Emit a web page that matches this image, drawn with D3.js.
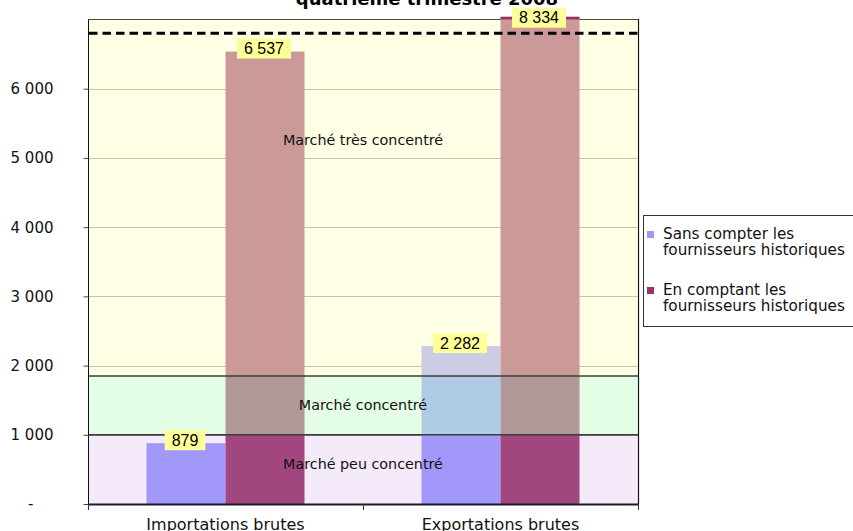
<!DOCTYPE html>
<html>
<head>
<meta charset="utf-8">
<script src="https://cdn.jsdelivr.net/npm/d3@7"></script>
<style>
  html, body { margin: 0; padding: 0; background: #ffffff; }
  svg { display: block; }
</style>
</head>
<body>
<svg id="chart" width="853" height="531"></svg>
<script>
// ---------------- data ----------------
const titleText = "quatrième trimestre 2008";
const categories = ["Importations brutes", "Exportations brutes"];
const seriesNames = ["Sans compter les fournisseurs historiques", "En comptant les fournisseurs historiques"];
const legendLines = [["Sans compter les", "fournisseurs historiques"], ["En comptant les", "fournisseurs historiques"]];
const sansCompter = [879, 2282];
const enComptant = [6537, 8334];
const bandBreaks = [0, 1000, 1850, 7000];
const bandLabels = ["Marché peu concentré", "Marché concentré", "Marché très concentré"];
const thresholdValue = 6800;
const yTickValues = [0, 1000, 2000, 3000, 4000, 5000, 6000];
const yMax = 7000;

// ---------------- layout / style ----------------
const W = 853, H = 531;
const plot = { left: 88, right: 638, top: 19.5, bottom: 504 };
const seriesColors = ["#9999FF", "#993366"];
const bandOverlay = ["rgba(198,151,232,0.2)", "rgba(199,253,202,0.5)", "rgba(255,255,204,0.5)"];
const bandLabelPx = [469, 410, 145]; // text baselines
const fmt = v => v === 0 ? "-" : d3.format(",")(v).replace(/,/g, " ");

const svg = d3.select("#chart");

const x0 = d3.scaleBand().domain(categories).range([plot.left, plot.right]).padding(0);
const x1 = d3.scaleBand().domain(seriesNames)
  .range([x0.bandwidth() * 0.2127, x0.bandwidth() * 0.7873]).padding(0);
const y = d3.scaleLinear().domain([0, yMax]).range([plot.bottom, plot.top]);

// title (partially outside the window, as in the reference)
svg.append("text")
  .attr("x", 427).attr("y", 5)
  .attr("text-anchor", "middle")
  .attr("font-family", "DejaVu Sans")
  .attr("font-weight", "bold")
  .attr("font-size", 18)
  .attr("fill", "#000")
  .text(titleText);

// gridlines (behind bars)
svg.append("g").selectAll("line")
  .data(yTickValues.filter(v => v > 0))
  .join("line")
  .attr("x1", plot.left).attr("x2", plot.right)
  .attr("y1", d => Math.round(y(d)) + 0.5).attr("y2", d => Math.round(y(d)) + 0.5)
  .attr("stroke", "#8a8a80").attr("stroke-width", 1);

// top and right border
svg.append("path")
  .attr("d", `M${plot.left},${Math.round(plot.top) - 0.5}H${plot.right + 0.5}V${plot.bottom}`)
  .attr("fill", "none").attr("stroke", "#111").attr("stroke-width", 1.2);

// bars
const seriesData = [sansCompter, enComptant];
const clipTop = plot.top - 2.8;
const barG = svg.append("g");
categories.forEach((cat, ci) => {
  seriesNames.forEach((s, si) => {
    const v = seriesData[si][ci];
    const yt = Math.max(y(v), clipTop);
    barG.append("rect")
      .attr("x", x0(cat) + x1(s))
      .attr("y", yt)
      .attr("width", x1.bandwidth())
      .attr("height", plot.bottom - yt)
      .attr("fill", seriesColors[si]);
  });
});

// band overlays (semi-transparent, on top of bars)
const bands = bandLabels.map((l, i) => ({ lo: bandBreaks[i], hi: bandBreaks[i + 1], label: l, i }));
svg.append("g").selectAll("rect")
  .data(bands)
  .join("rect")
  .attr("x", plot.left).attr("width", plot.right - plot.left)
  .attr("y", d => y(d.hi)).attr("height", d => y(d.lo) - y(d.hi))
  .attr("fill", d => bandOverlay[d.i]);

// band borders
svg.append("g").selectAll("line")
  .data(bandBreaks.slice(1, -1))
  .join("line")
  .attr("x1", plot.left).attr("x2", plot.right)
  .attr("y1", d => y(d)).attr("y2", d => y(d))
  .attr("stroke", "#3c3c3c").attr("stroke-width", 1.5);

// threshold dashed line
svg.append("line")
  .attr("x1", plot.left + 1).attr("x2", plot.right)
  .attr("y1", y(thresholdValue)).attr("y2", y(thresholdValue))
  .attr("stroke", "#000").attr("stroke-width", 3)
  .attr("stroke-dasharray", "8.5,5");

// band labels
svg.append("g").selectAll("text")
  .data(bands)
  .join("text")
  .attr("x", (plot.left + plot.right) / 2)
  .attr("y", d => bandLabelPx[d.i])
  .attr("text-anchor", "middle")
  .attr("font-family", "DejaVu Sans")
  .attr("font-size", 14.3)
  .attr("fill", "#111")
  .text(d => d.label);

// y axis
const yAxis = svg.append("g").attr("transform", `translate(${plot.left + 0.5},0)`)
  .call(d3.axisLeft(y).tickValues(yTickValues).tickSize(5).tickFormat(fmt));
yAxis.select(".domain").attr("stroke", "#111").attr("d", `M0,${plot.top}V${plot.bottom}`);
yAxis.selectAll(".tick line").attr("stroke", "#444");
yAxis.selectAll(".tick text")
  .attr("font-family", "DejaVu Sans").attr("font-size", 15).attr("fill", "#111")
  .attr("x", d => d === 0 ? -55 : -35)
  .attr("dy", "0.33em");

// x axis
const xAxisG = svg.append("g");
xAxisG.append("line")
  .attr("x1", plot.left).attr("x2", plot.right + 1)
  .attr("y1", plot.bottom + 0.5).attr("y2", plot.bottom + 0.5)
  .attr("stroke", "#1a1a2a").attr("stroke-width", 2);
const xTickPos = categories.map(c => x0(c)).concat([x0(categories[categories.length - 1]) + x0.bandwidth()]);
xAxisG.selectAll("line.xt")
  .data(xTickPos)
  .join("line").attr("class", "xt")
  .attr("x1", d => Math.round(d) + 0.5).attr("x2", d => Math.round(d) + 0.5)
  .attr("y1", plot.bottom).attr("y2", plot.bottom + 6)
  .attr("stroke", "#333");
xAxisG.selectAll("text")
  .data(categories)
  .join("text")
  .attr("x", d => x0(d) + x0.bandwidth() / 2)
  .attr("y", 530)
  .attr("text-anchor", "middle")
  .attr("font-family", "DejaVu Sans")
  .attr("font-size", 16)
  .attr("fill", "#111")
  .text(d => d);

// data labels
const labelG = svg.append("g");
categories.forEach((cat, ci) => {
  seriesNames.forEach((s, si) => {
    const v = seriesData[si][ci];
    const yt = Math.max(y(v), clipTop);
    const cx = x0(cat) + x1(s) + x1.bandwidth() / 2 - 1;
    const g = labelG.append("g");
    const t = g.append("text")
      .attr("x", cx)
      .attr("text-anchor", "middle")
      .attr("font-family", "Liberation Sans")
      .attr("font-size", 16)
      .attr("fill", "#000")
      .text(fmt(v));
    const w = t.node().getComputedTextLength() + 14;
    const bottom = yt + (y(v) < clipTop ? 11 : 7);
    const h = 20;
    g.insert("rect", "text")
      .attr("x", cx - w / 2).attr("y", bottom - h)
      .attr("width", w).attr("height", h)
      .attr("fill", "#FFFF99");
    t.attr("y", bottom - 4.5);
  });
});

// legend
const lg = svg.append("g");
lg.append("rect")
  .attr("x", 643.5).attr("y", 215.5)
  .attr("width", 240).attr("height", 111)
  .attr("fill", "#fff").attr("stroke", "#333").attr("stroke-width", 1);
const legendItemY = [239, 295];
seriesNames.forEach((s, i) => {
  lg.append("rect")
    .attr("x", 647).attr("y", legendItemY[i] - 8)
    .attr("width", 7).attr("height", 7)
    .attr("fill", seriesColors[i]);
  legendLines[i].forEach((line, j) => {
    lg.append("text")
      .attr("x", 663).attr("y", legendItemY[i] + j * 16)
      .attr("font-family", "DejaVu Sans")
      .attr("font-size", 15.2)
      .attr("fill", "#111")
      .text(line);
  });
});
</script>
</body>
</html>
